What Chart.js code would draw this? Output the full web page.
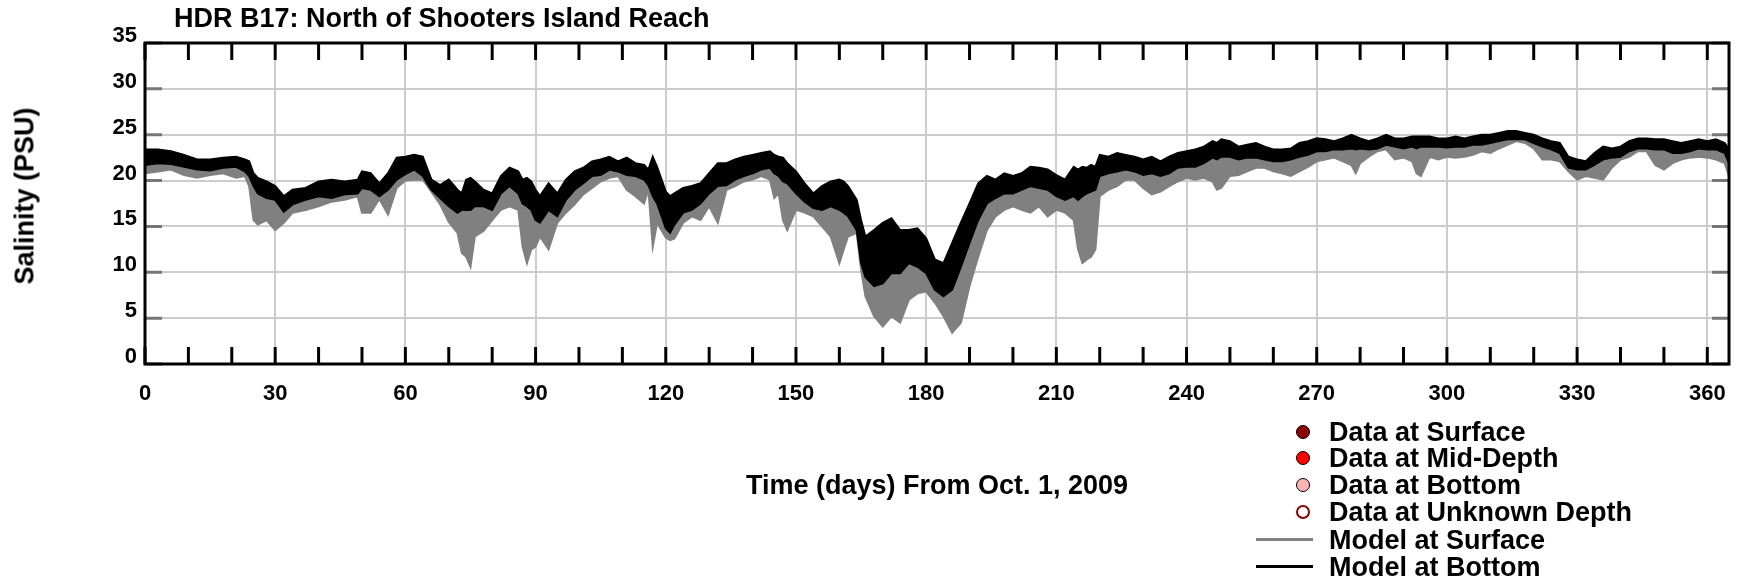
<!DOCTYPE html>
<html>
<head>
<meta charset="utf-8">
<script src="https://cdn.jsdelivr.net/npm/chart.js@4"></script>
<style>
  body { margin: 0; background: #fff; }
  #wrap { position: relative; width: 1743px; height: 584px; font-family: "Liberation Sans", Arial, sans-serif; font-weight: bold; color: #000; }
  #title { position: absolute; left: 174px; top: 5px; font-size: 27px; line-height: 27px; white-space: nowrap; }
  #ytitle { position: absolute; left: 25px; top: 196px; font-size: 27px; line-height: 27px; white-space: nowrap; transform: translate(-50%, -50%) rotate(-90deg); }
  .row { position: absolute; left: 1256px; height: 27px; width: 480px; font-size: 27px; line-height: 27px; white-space: nowrap; }
  .row .dot { position: absolute; left: 40px; top: 6px; width: 12px; height: 12px; border-radius: 50%; border: 1px solid #000; }
  .row .line { position: absolute; left: 0; top: 11px; width: 57px; height: 3px; }
  .row .txt { position: absolute; left: 73px; top: 0; }
</style>
</head>
<body>
<div id="wrap">
  <canvas id="salinityChart" width="1743" height="584"></canvas>
  <div id="title">HDR B17: North of Shooters Island Reach</div>
  <div id="ytitle">Salinity (PSU)</div>
  <div id="legend"></div>
</div>
<script>
// 読み取り値: 日ごとの帯の上端・下端 (PSU)
const days = [0, 3, 6, 9, 12, 15, 18, 21, 23, 24, 25, 26, 28, 30, 32, 34, 37, 40, 43, 46, 49, 50, 52, 54, 56, 58,
  60, 62, 64, 66, 68, 70, 72, 73, 74, 75, 76, 78, 80, 82, 84, 86, 87, 88, 89, 90, 91, 93, 95, 97, 99, 101, 103, 105, 107, 109,
  111, 113, 115, 116, 117, 118, 120, 121, 122, 124, 126, 128, 130, 132, 134, 136, 138, 140, 142, 144, 145, 146, 147, 148,
  150, 152, 154, 156, 158, 160, 161, 162, 164, 165, 166, 168, 170, 172, 174, 176, 178, 180, 182, 184, 186, 188,
  190, 192, 194, 196, 198, 200, 202, 204, 206, 208, 210, 212, 214, 215, 216, 217, 218, 219, 220, 222, 224, 226, 228,
  230, 232, 234, 236, 238, 240, 242, 244, 246, 247, 248, 250, 252, 254, 256, 258, 260, 262, 264, 266, 268,
  270, 272, 274, 276, 278, 279, 280, 282, 284, 286, 288, 290, 292, 293, 294, 296, 298, 300, 302, 304, 306, 308,
  310, 312, 314, 316, 318, 320, 322, 324, 326, 328, 330, 332, 334, 336, 338, 340, 342, 344, 346, 348,
  350, 352, 354, 356, 358, 360, 362, 364, 365];
const bottomHi = [23.4, 23.4, 23.2, 22.8, 22.3, 22.3, 22.5, 22.6, 22.3, 22.1, 20.8, 20.3, 19.9, 19.4, 18.3, 19.0, 19.2, 19.9, 20.1, 19.9, 20.1, 21.0, 20.8, 19.7, 20.8, 22.5,
  22.6, 22.8, 22.6, 20.1, 19.5, 20.1, 19.0, 18.6, 20.1, 20.3, 19.9, 19.0, 18.6, 20.5, 21.4, 21.0, 20.1, 20.3, 19.9, 19.0, 18.3, 19.7, 18.6, 20.1, 21.0, 21.4, 22.1, 22.3, 22.6, 22.1,
  22.5, 21.9, 21.7, 21.2, 22.6, 21.5, 18.8, 18.3, 18.6, 19.2, 19.4, 19.7, 20.8, 21.9, 21.9, 22.3, 22.6, 22.8, 23.0, 23.2, 22.8, 22.6, 22.5, 21.9,
  21.0, 19.7, 18.6, 19.4, 19.9, 20.1, 19.9, 19.4, 17.9, 15.7, 13.9, 14.6, 15.4, 15.9, 14.6, 14.6, 14.8, 13.7, 11.4, 11.0, 13.2, 15.4,
  17.5, 19.7, 20.5, 20.1, 20.8, 20.5, 20.8, 21.5, 21.4, 21.2, 20.6, 20.1, 21.5, 21.2, 21.5, 21.4, 21.7, 21.5, 22.8, 22.6, 23.0, 22.8, 22.6,
  22.3, 22.6, 22.1, 22.6, 23.0, 23.2, 23.4, 23.7, 24.3, 24.1, 24.5, 24.3, 23.7, 23.9, 24.1, 23.7, 23.4, 23.4, 23.5, 24.1, 24.3,
  24.6, 24.5, 24.3, 24.6, 25.0, 24.8, 24.6, 24.3, 24.6, 25.0, 24.6, 24.6, 24.8, 24.8, 24.8, 24.8, 24.6, 24.6, 24.8, 24.6, 24.8, 25.0,
  25.0, 25.2, 25.4, 25.4, 25.2, 25.0, 24.6, 24.3, 24.1, 22.6, 22.3, 22.1, 23.0, 23.7, 23.5, 23.7, 24.3, 24.6, 24.6, 24.5,
  24.5, 24.3, 24.1, 24.3, 24.5, 24.3, 24.5, 24.1, 23.4];
const bottomLo = [21.7, 21.9, 21.8, 21.5, 21.2, 21.1, 21.4, 21.5, 21.0, 20.5, 19.4, 18.6, 18.1, 17.9, 16.6, 17.4, 17.9, 18.3, 18.1, 18.5, 18.6, 19.2, 19.0, 18.3, 19.0, 20.1,
  20.7, 21.2, 20.5, 19.0, 18.1, 17.2, 16.5, 16.8, 16.8, 16.8, 17.2, 17.2, 16.8, 18.6, 19.4, 18.6, 17.5, 17.2, 16.8, 15.7, 15.4, 16.8, 16.1, 17.9, 19.0, 19.7, 20.5, 20.6, 21.2, 21.0,
  20.6, 20.5, 20.1, 19.5, 18.3, 17.5, 14.8, 14.3, 15.2, 16.5, 16.8, 17.5, 18.6, 19.4, 19.5, 20.1, 20.5, 20.8, 21.2, 21.4, 20.8, 20.5, 19.9, 19.7,
  18.6, 17.7, 17.0, 16.8, 17.2, 16.8, 16.5, 16.1, 14.6, 11.0, 9.5, 8.5, 8.8, 9.9, 9.9, 11.0, 10.6, 9.9, 8.1, 7.4, 8.1, 10.6,
  13.2, 15.7, 17.5, 18.1, 18.6, 18.6, 19.0, 19.4, 19.2, 19.0, 18.3, 17.9, 18.3, 17.9, 18.3, 18.6, 18.8, 19.0, 20.5, 20.8, 21.0, 21.2, 21.0,
  20.6, 20.8, 20.5, 20.8, 21.4, 21.5, 21.5, 21.9, 22.5, 22.3, 22.6, 22.6, 22.3, 22.5, 22.5, 22.3, 22.1, 22.1, 22.3, 22.6, 22.8,
  23.2, 23.2, 23.4, 23.4, 23.5, 23.4, 23.5, 23.4, 23.5, 23.9, 23.7, 23.5, 23.7, 23.5, 23.7, 23.7, 23.7, 23.6, 23.7, 23.7, 23.9, 23.9,
  24.1, 24.3, 24.5, 24.5, 24.5, 24.1, 23.7, 23.4, 23.0, 21.4, 21.2, 21.2, 21.7, 22.3, 22.5, 22.6, 23.2, 23.5, 23.5, 23.4,
  23.4, 23.0, 23.0, 23.2, 23.5, 23.4, 23.4, 23.0, 21.9];
const surfaceLo = [20.8, 21.0, 21.2, 20.6, 20.3, 20.6, 20.8, 20.3, 20.5, 19.4, 15.7, 15.2, 15.7, 14.6, 15.4, 16.5, 16.8, 17.2, 17.7, 17.9, 18.3, 16.5, 16.5, 18.0, 16.3, 19.2,
  20.0, 20.1, 20.1, 18.8, 17.4, 15.5, 14.3, 12.1, 11.7, 10.6, 13.9, 14.5, 15.7, 16.8, 17.2, 16.8, 12.8, 11.0, 12.5, 12.8, 13.9, 12.5, 15.4, 16.5, 17.4, 18.5, 19.2, 19.9, 20.3, 20.5,
  19.0, 18.3, 17.5, 19.0, 12.8, 15.4, 13.8, 13.5, 13.7, 15.4, 16.1, 15.7, 17.2, 15.4, 19.0, 19.4, 19.9, 20.1, 20.5, 20.1, 18.1, 18.6, 15.7, 14.6,
  16.8, 16.5, 16.1, 15.0, 13.9, 11.0, 12.5, 13.9, 14.3, 10.3, 7.4, 5.2, 4.1, 5.2, 4.5, 7.0, 7.7, 7.9, 6.7, 5.2, 3.4, 4.5,
  8.5, 11.7, 14.6, 16.1, 16.8, 17.2, 16.8, 16.5, 17.2, 16.1, 16.8, 16.5, 15.7, 12.5, 11.0, 11.4, 11.7, 12.5, 18.3, 19.0, 19.4, 20.1, 20.1,
  19.2, 18.5, 18.8, 19.4, 19.9, 20.3, 20.1, 20.3, 19.9, 19.0, 19.2, 20.5, 20.6, 21.0, 21.4, 21.4, 21.0, 20.8, 20.5, 21.0, 21.5,
  22.1, 22.3, 22.5, 22.1, 21.7, 20.8, 21.9, 22.6, 23.2, 23.4, 22.3, 22.5, 22.1, 20.8, 20.5, 22.6, 22.3, 22.6, 22.5, 22.6, 22.8, 23.2,
  23.0, 23.5, 23.9, 24.3, 24.1, 23.5, 22.3, 22.3, 22.1, 21.0, 20.1, 20.5, 20.3, 20.1, 21.4, 22.3, 22.6, 23.2, 23.2, 21.7,
  21.2, 21.9, 22.3, 22.5, 22.6, 22.5, 22.3, 21.9, 20.5];
const xTicks = [0, 30, 60, 90, 120, 150, 180, 210, 240, 270, 300, 330, 360];
const yTicks = [0, 5, 10, 15, 20, 25, 30, 35];

const legendItems = [
  { label: 'Data at Surface', kind: 'dot', color: '#8b0000' },
  { label: 'Data at Mid-Depth', kind: 'dot', color: '#ff0000' },
  { label: 'Data at Bottom', kind: 'dot', color: '#ffb4b4' },
  { label: 'Data at Unknown Depth', kind: 'ring', color: '#8b0000' },
  { label: 'Model at Surface', kind: 'line', color: '#808080' },
  { label: 'Model at Bottom', kind: 'line', color: '#000000' }
];

function pts(arr) {
  return days.map((d, i) => ({ x: d, y: arr[i] }));
}

// 枠と内向きの目盛りを描く
const framePlugin = {
  id: 'frame',
  afterDatasetsDraw(chart) {
    const { ctx, chartArea: a, scales: { x, y } } = chart;
    ctx.save();
    ctx.lineWidth = 3;
    ctx.strokeStyle = '#000';
    x.ticks.forEach(t => {
      const px = x.getPixelForValue(t.value);
      ctx.beginPath();
      ctx.moveTo(px, a.bottom); ctx.lineTo(px, a.bottom - 17);
      ctx.moveTo(px, a.top); ctx.lineTo(px, a.top + 17);
      ctx.stroke();
    });
    ctx.strokeStyle = '#777';
    y.ticks.forEach(t => {
      const py = y.getPixelForValue(t.value);
      ctx.beginPath();
      ctx.moveTo(a.left, py); ctx.lineTo(a.left + 17, py);
      ctx.moveTo(a.right, py); ctx.lineTo(a.right - 17, py);
      ctx.stroke();
    });
    ctx.strokeStyle = '#000';
    ctx.strokeRect(a.left, a.top, a.width, a.height);
    ctx.restore();
  }
};

const font = { family: '"Liberation Sans", Arial, sans-serif', weight: 'bold' };

document.addEventListener('DOMContentLoaded', function() {
  const ctx = document.getElementById('salinityChart').getContext('2d');
  new Chart(ctx, {
    type: 'line',
    data: {
      datasets: [
        { label: 'Model at Bottom', data: pts(bottomHi), borderColor: '#000', backgroundColor: '#000', borderWidth: 2, pointRadius: 0, fill: '+1' },
        { label: 'Model at Bottom (low)', data: pts(bottomLo), borderColor: '#000', borderWidth: 2, pointRadius: 0, fill: false },
        { label: 'Model at Surface', data: pts(bottomLo), borderColor: '#808080', backgroundColor: '#808080', borderWidth: 0, pointRadius: 0, fill: '+1' },
        { label: 'Model at Surface (low)', data: pts(surfaceLo), borderColor: '#808080', borderWidth: 2, pointRadius: 0, fill: false }
      ]
    },
    options: {
      responsive: false,
      animation: false,
      devicePixelRatio: 1,
      layout: { padding: { top: 43, right: 14, left: 0, bottom: 0 } },
      plugins: { legend: { display: false }, tooltip: { enabled: false } },
      scales: {
        x: {
          type: 'linear',
          min: 0,
          max: 365,
          afterFit: s => { s.height = 220; },
          border: { display: false },
          grid: {
            drawTicks: false,
            lineWidth: 2,
            color: c => xTicks.includes(c.tick.value) ? '#cccccc' : 'rgba(0,0,0,0)'
          },
          ticks: {
            stepSize: 10,
            autoSkip: false,
            includeBounds: false,
            maxRotation: 0,
            padding: 17,
            color: '#000',
            font: { ...font, size: 22 },
            callback: v => xTicks.includes(v) ? String(v) : ''
          },
          title: {
            display: true,
            text: 'Time (days) From Oct. 1, 2009',
            color: '#000',
            font: { ...font, size: 27 },
            padding: { top: 0, bottom: 81 }
          }
        },
        y: {
          min: 0,
          max: 35,
          afterFit: s => { s.width = 145; },
          border: { display: false },
          grid: { drawTicks: false, lineWidth: 2, color: '#cccccc' },
          ticks: {
            stepSize: 5,
            padding: 8,
            labelOffset: -7,
            color: '#000',
            font: { ...font, size: 22 },
            callback: v => yTicks.includes(v) ? String(v) : ''
          }
        }
      }
    },
    plugins: [framePlugin]
  });

  // 凡例
  const legend = document.getElementById('legend');
  const rowTops = [419, 445, 472, 499, 527, 554];
  legendItems.forEach((item, i) => {
    const row = document.createElement('div');
    row.className = 'row';
    row.style.top = rowTops[i] + 'px';
    const mark = document.createElement('span');
    if (item.kind === 'line') {
      mark.className = 'line';
      mark.style.background = item.color;
    } else if (item.kind === 'ring') {
      mark.className = 'dot';
      mark.style.background = '#fff';
      mark.style.border = '2.5px solid ' + item.color;
      mark.style.width = '10px';
      mark.style.height = '10px';
    } else {
      mark.className = 'dot';
      mark.style.background = item.color;
    }
    const txt = document.createElement('span');
    txt.className = 'txt';
    txt.textContent = item.label;
    row.appendChild(mark);
    row.appendChild(txt);
    legend.appendChild(row);
  });
});
</script>
</body>
</html>
